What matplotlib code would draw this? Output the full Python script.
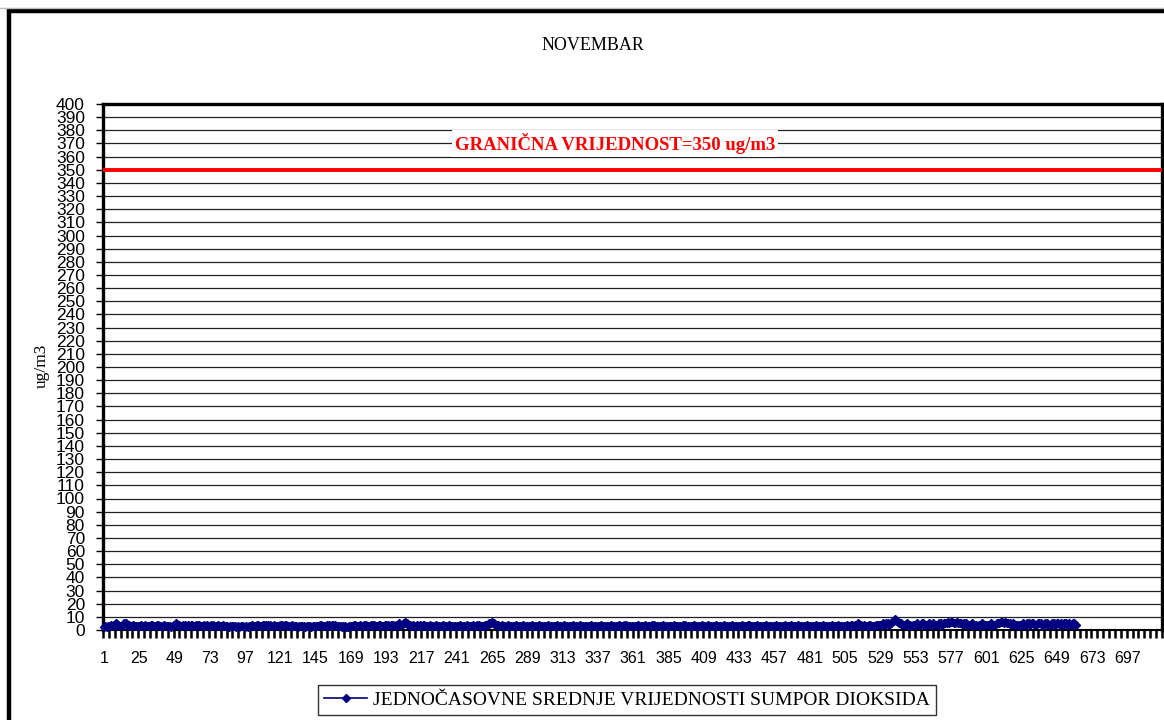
import numpy as np
import matplotlib
matplotlib.use("Agg")
import matplotlib.pyplot as plt
from matplotlib import font_manager
from matplotlib.patches import Rectangle
from matplotlib.lines import Line2D

# ---------------- data ----------------
title = "NOVEMBAR"
y_label = "ug/m3"
limit_value = 350
limit_label = "GRANIČNA VRIJEDNOST=350 ug/m3"
series_label = "JEDNOČASOVNE SREDNJE VRIJEDNOSTI SUMPOR DIOKSIDA"
n_categories = 720
x_tick_labels = list(range(1, 721, 24))
y_ticks = list(range(0, 401, 10))

so2_hourly = [
    2,3,2,3,3,4,3,4,5,4,4,3,3,4,5,5,4,4,3,3,4,3,3,3,
    3,4,3,3,4,3,3,3,4,4,3,3,4,4,3,3,3,4,3,3,3,3,2,3,
    4,5,4,4,3,3,4,4,3,4,3,4,4,3,3,4,4,4,3,3,4,3,4,3,
    3,4,4,3,3,3,4,3,3,4,3,3,3,2,3,3,3,3,2,3,2,3,3,3,
    2,3,2,3,3,4,3,3,4,4,3,3,4,4,4,3,4,4,3,3,4,3,3,3,
    4,4,3,4,4,3,3,3,4,3,3,3,2,3,3,3,3,2,3,3,3,2,3,3,
    3,3,3,4,4,3,3,3,4,4,3,4,4,4,3,3,3,3,2,3,3,2,2,3,
    3,3,4,4,3,3,4,3,3,4,4,3,3,3,4,4,4,3,3,4,4,3,3,4,
    4,4,3,4,4,4,3,4,4,5,4,4,5,6,5,4,4,3,4,3,3,4,3,4,
    3,4,4,3,3,3,4,3,3,3,4,3,3,3,3,4,3,3,3,4,3,3,3,3,
    3,3,4,3,3,3,3,4,3,3,3,4,3,3,4,4,3,3,3,4,4,4,5,5,
    6,5,4,4,4,3,3,4,3,3,3,4,3,3,3,3,4,3,3,3,3,4,3,3,
    3,3,3,4,3,3,3,3,4,3,3,3,3,3,4,3,3,3,3,3,4,3,3,3,
    3,4,3,3,3,3,3,4,3,3,3,3,4,3,3,3,3,3,3,4,3,3,3,3,
    3,3,4,3,3,3,3,3,3,4,3,3,3,3,4,3,3,3,4,4,3,3,3,3,
    3,3,3,4,3,3,3,3,4,3,3,3,3,4,4,3,3,3,3,3,4,3,3,3,
    3,3,3,3,4,3,3,3,3,3,4,4,3,3,3,3,3,4,3,3,3,3,3,4,
    3,3,3,4,3,3,3,3,4,3,3,3,3,3,4,3,3,3,3,4,3,3,3,3,
    3,3,4,3,3,3,4,4,3,3,3,3,4,3,3,3,3,3,4,3,3,3,3,3,
    3,4,3,3,3,3,3,4,3,3,3,4,3,3,3,3,4,3,3,3,3,3,4,3,
    3,3,3,3,4,3,3,3,3,4,3,3,3,3,3,4,3,3,3,4,3,3,3,3,
    3,4,3,3,4,4,3,4,4,5,4,4,3,4,3,3,4,4,3,3,3,4,4,4,
    4,4,5,4,5,5,4,5,6,7,8,7,6,5,5,4,4,4,5,4,4,3,4,4,
    4,5,4,4,5,5,4,4,4,5,4,4,5,4,4,4,5,5,4,5,5,5,6,5,
    6,6,5,5,6,5,5,5,4,5,5,4,4,4,5,4,4,4,3,4,4,5,4,4,
    4,4,4,5,4,4,4,5,5,5,6,6,5,6,5,5,5,4,5,4,4,4,4,4,
    4,5,4,4,5,5,4,5,5,4,4,5,5,5,4,4,5,5,4,4,4,5,5,4,
    5,5,4,5,4,5,5,4,5,4,4,5,5,4,
]

# ---------------- fonts ----------------
available = {f.name for f in font_manager.fontManager.ttflist}
serif = "Liberation Serif" if "Liberation Serif" in available else "DejaVu Serif"
narrow = "Liberation Sans Narrow" if "Liberation Sans Narrow" in available else "Liberation Sans"
sans = "Liberation Sans" if "Liberation Sans" in available else "DejaVu Sans"

W, H = 1164, 720
fig = plt.figure(figsize=(W / 100, H / 100), dpi=100)
fig.patch.set_facecolor("white")

def fx(px):
    return px / W

def fy(py):
    return 1 - py / H

# outer frame
fig.add_artist(Line2D([0, 1], [fy(8), fy(8)], color="#bbbbbb", lw=1, transform=fig.transFigure))
fig.add_artist(Rectangle((fx(9), fy(740)), fx(1200), fy(11) - fy(740), fill=False,
                         edgecolor="black", lw=3.2, transform=fig.transFigure))

ax = fig.add_axes([fx(103), fy(630), fx(1162) - fx(103), fy(104) - fy(630)])
ax.set_xlim(0.5, n_categories + 0.5)
ax.set_ylim(0, 400)

# grid
for yv in y_ticks[1:-1]:
    ax.axhline(yv, color="#222222", lw=0.9, zorder=1)

# limit line
ax.axhline(limit_value, color="#ff0000", lw=2.8, zorder=3)
label_x = ax.transData.inverted().transform(ax.transAxes.transform((0, 0)))[0]
ax.text(0.4835, 370, limit_label, transform=ax.get_yaxis_transform(),
        color="#ff0000", fontsize=13.5, fontweight="bold", family=serif,
        ha="center", va="center", zorder=4,
        bbox=dict(facecolor="white", edgecolor="none", pad=2))

# data
x = np.arange(1, len(so2_hourly) + 1)
ax.plot(x, so2_hourly, color="#000080", lw=2.0, marker="D", markersize=4.5,
        markerfacecolor="#000080", markeredgecolor="#000080", zorder=5, clip_on=False)

# spines
for side in ["left", "top", "right"]:
    ax.spines[side].set_linewidth(2.4)
    ax.spines[side].set_color("black")
ax.spines["bottom"].set_linewidth(1.5)

# y ticks
ax.set_yticks(y_ticks)
ax.set_yticklabels([str(v) for v in y_ticks], family=sans, fontsize=12.5)
ax.tick_params(axis="y", direction="out", length=5, width=1, pad=8, colors="black")

# x ticks
ax.set_xticks(x_tick_labels)
ax.set_xticklabels([str(v) for v in x_tick_labels], family=narrow, fontsize=11.5)
ax.tick_params(axis="x", which="major", length=0, pad=15)
ax.set_xticks(np.arange(0.5, n_categories + 1, 4), minor=True)
ax.tick_params(axis="x", which="minor", direction="out", length=6, width=1.8, color="black")

# titles
fig.text(fx(593), fy(45), title, family=serif, fontsize=13, ha="center", va="center")
fig.text(fx(42), fy(366), y_label, family=serif, fontsize=12.5, rotation=90,
         ha="center", va="center")

# legend
handle = Line2D([], [], color="#000080", lw=1.2, marker="D", markersize=4)
leg = fig.legend([handle], [series_label], loc="center",
                 bbox_to_anchor=(fx(627), fy(700)), frameon=True, fancybox=False,
                 prop={"family": serif, "size": 14}, handlelength=2.2,
                 handletextpad=0.3, borderpad=0.3, edgecolor="black")
leg.get_frame().set_linewidth(1.0)

fig.savefig("out.png", dpi=100, facecolor="white")
